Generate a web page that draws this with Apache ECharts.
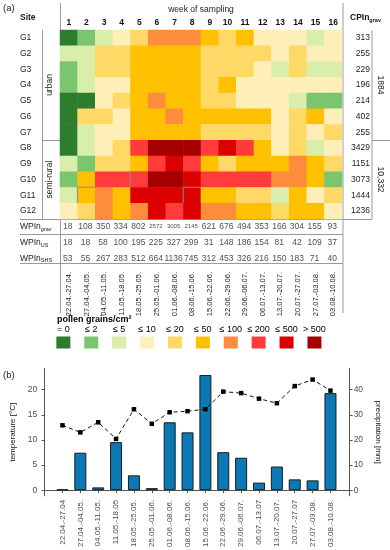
<!DOCTYPE html>
<html><head><meta charset="utf-8">
<script src="https://cdn.jsdelivr.net/npm/echarts@6/dist/echarts.min.js"></script>
<style>html,body{margin:0;padding:0;background:#fff}#c{width:390px;height:550px}</style>
</head><body><div id="c"></div>
<script>
// ---------- data ----------
const weeks = ['1','2','3','4','5','6','7','8','9','10','11','12','13','14','15','16'];
const sites = ['G1','G2','G3','G4','G5','G6','G7','G8','G9','G10','G11','G12'];
// pollen class index per week (0: =0, 1: <=2, 2: <=5, 3: <=10, 4: <=20, 5: <=50, 6: <=100, 7: <=200, 8: <=500, 9: >500)
const g1  = [0,1,2,3,4,6,6,6,5,4,5,3,3,3,2,3];
const g2  = [2,2,4,4,5,5,5,5,4,4,4,4,3,4,3,3];
const g3  = [1,2,4,4,5,5,5,5,4,4,4,3,2,4,2,2];
const g4  = [1,2,3,3,5,5,5,5,4,5,3,3,3,3,3,3];
const g5  = [0,0,3,4,5,6,5,5,4,4,3,3,3,2,1,1];
const g6  = [0,4,4,3,5,5,6,5,5,5,5,5,3,4,5,3];
const g7  = [0,2,3,3,5,5,5,5,4,4,4,4,3,4,3,4];
const g8  = [0,2,3,4,7,9,9,9,7,8,7,5,3,4,2,3];
const g9  = [2,1,4,4,5,7,8,7,5,4,5,5,5,6,5,4];
const g10 = [1,5,7,7,7,9,9,8,7,7,7,7,6,6,5,1];
const g11 = [2,5,6,5,8,8,8,8,5,5,4,4,2,5,3,4];
const g12 = [3,4,6,5,6,8,7,8,6,6,5,5,4,5,5,3];
const siteRows = [g1,g2,g3,g4,g5,g6,g7,g8,g9,g10,g11,g12];
const outlinedCells = [[4,9],[1,10],[7,10]]; // [week index, site index]
const cpinGrav = [313,255,229,196,214,402,255,3429,1151,3073,1444,1236];
const cpinUrban = '1884';
const cpinSemiRural = '10,332';
const wpinGrav = [18,108,350,334,802,2572,3005,2145,621,676,494,353,166,304,155,93];
const wpinUS   = [18,18,58,100,195,225,327,299,31,148,186,154,81,42,109,37];
const wpinSHS  = [53,55,267,283,512,664,1136,745,312,453,326,216,150,183,71,40];
const tableRows = ['grav','US','SHS'];
const periods = ['22.04.-27.04.','27.04.-04.05.','04.05.-11.05.','11.05.-18.05.','18.05.-25.05.','25.05.-01.06.','01.06.-08.06.','08.06.-15.06.','15.06.-22.06.','22.06.-29.06.','29.06.-06.07.','06.07.-13.07.','13.07.-20.07.','20.07.-27.07.','27.07.-03.08.','03.08.-10.08.'];
const periodsB = ['22.04.-27.04','27.04.-04.05.','04.05.-11.05.','11.05.-18.05','18.05.-25.05.','25.05.-01.06.','01.06.-08.06.','08.06.-15.06.','15.06.-22.06.','22.06.-29.06.','29.06.-06.07.','06.07.-13.07','13.07.-20.07.','20.07.-27.07','27.07.-03.08.','03.08.-10.08.'];
const classLabels = ['= 0','≤ 2','≤ 5','≤ 10','≤ 20','≤ 50','≤ 100','≤ 200','≤ 500','> 500'];
const classColors = ['#2e7d2e','#7bc56e','#d8eeaa','#feefb8','#fed966','#ffc000','#fd8d3c','#ff3b3b','#dc0000','#a50000'];
const precipitation = [0.3,14.9,1.1,19.1,5.9,0.8,27.0,23.0,45.8,15.1,12.9,3.0,9.4,4.3,3.9,38.6];
const temperature = [12.9,11.5,13.5,10.2,16.1,13.2,15.5,15.7,16.1,19.6,19.3,18.2,17.3,20.7,22.0,19.8];
const tempTicks = [0,5,10,15,20];
const precTicks = [0,10,20,30,40];

// ---------- build ----------
const FONT = '"Liberation Sans", Arial, sans-serif';
const heatData = [];
siteRows.forEach((row, s) => row.forEach((c, w) => {
  const item = {value: [w, s, c]};
  if (outlinedCells.some(o => o[0] === w && o[1] === s)) item.itemStyle = {borderColor: '#8a8a8a', borderWidth: 1};
  heatData.push(item);
}));
const tableData = [];
[wpinGrav, wpinUS, wpinSHS].forEach((row, r) => row.forEach((v, w) => tableData.push([w, r, v])));
const legendData = classLabels.map((l, i) => [i, 0, i]);
const xs = weeks.map((w, i) => i + 1);

const lineColor = '#9a9a9a';
function hline(x1, x2, y) { return {type: 'line', shape: {x1, y1: y, x2, y2: y}, style: {stroke: lineColor, lineWidth: 1}, silent: true}; }
function vline(x, y1, y2) { return {type: 'line', shape: {x1: x, y1, x2: x, y2}, style: {stroke: lineColor, lineWidth: 1}, silent: true}; }
function txt(x, y, text, opt) {
  return Object.assign({type: 'text', x, y, silent: true,
    style: Object.assign({text, fontFamily: FONT, fontSize: 8.5, fill: '#1a1a1a', align: 'left', verticalAlign: 'middle'}, opt && opt.style)},
    opt && opt.rotation !== undefined ? {rotation: opt.rotation} : {});
}

const chart = echarts.init(document.getElementById('c'), null, {renderer: 'canvas'});
chart.setOption({
  animation: false,
  textStyle: {fontFamily: FONT},
  grid: [
    {left: 60, top: 30, width: 282, height: 189},
    {left: 60, top: 219, width: 282, height: 47},
    {left: 49.4, top: 336.5, width: 279, height: 12},
    {left: 43.3, top: 368.5, width: 319.4, height: 128.2}
  ],
  visualMap: {
    type: 'piecewise', show: false, dimension: 2, seriesIndex: [0, 2],
    pieces: classColors.map((c, i) => ({value: i, color: c}))
  },
  xAxis: [
    {type: 'category', gridIndex: 0, data: weeks, position: 'top',
      axisLine: {show: false}, axisTick: {show: false}, splitLine: {show: false},
      axisLabel: {fontSize: 8.5, fontWeight: 'bold', color: '#111', margin: 3}},
    {type: 'category', gridIndex: 1, data: periods, position: 'bottom',
      axisLine: {show: false}, axisTick: {show: false},
      axisLabel: {fontSize: 7.5, color: '#222', rotate: 90, margin: 6, interval: 0}},
    {type: 'category', gridIndex: 2, data: classLabels, show: false},
    {type: 'value', gridIndex: 3, min: -0.073, max: 17.073, splitLine: {show: false},
      axisLine: {show: true, lineStyle: {color: '#555', width: 1}},
      axisTick: {show: true, customValues: xs, length: 3, lineStyle: {color: '#555'}},
      axisLabel: {customValues: xs, formatter: v => periodsB[Math.round(v) - 1], rotate: 90, fontSize: 8, color: '#4d4d4d', margin: 4}}
  ],
  yAxis: [
    {type: 'category', gridIndex: 0, data: sites, inverse: true,
      axisLine: {show: false}, axisTick: {show: false},
      axisLabel: {fontSize: 8.5, color: '#222', align: 'left', margin: 40}},
    {type: 'category', gridIndex: 0, data: cpinGrav.map(String), inverse: true, position: 'right',
      axisLine: {show: false}, axisTick: {show: false},
      axisLabel: {fontSize: 8.5, color: '#222', align: 'right', margin: 28}},
    {type: 'category', gridIndex: 1, data: tableRows, inverse: true,
      axisLine: {show: false}, axisTick: {show: false},
      axisLabel: {align: 'left', margin: 40, formatter: v => '{a|WPIn}{s|' + v + '}',
        rich: {a: {fontSize: 8.5, color: '#222'}, s: {fontSize: 5.5, color: '#222', verticalAlign: 'bottom', padding: [5, 0, 0, 0]}}}},
    {type: 'value', gridIndex: 2, show: false, min: -1, max: 1},
    {type: 'value', gridIndex: 3, min: -1.13, max: 24.2, splitLine: {show: false},
      axisLine: {show: true, lineStyle: {color: '#555', width: 1}},
      axisTick: {show: true, customValues: tempTicks, length: 3, lineStyle: {color: '#555'}},
      axisLabel: {customValues: tempTicks, fontSize: 8.5, color: '#4d4d4d', margin: 6},
      name: 'temperature [°C]', nameLocation: 'middle', nameGap: 14,
      nameTextStyle: {fontSize: 8, color: '#111'}},
    {type: 'value', gridIndex: 3, position: 'right', min: -2.26, max: 48.4, splitLine: {show: false},
      axisLine: {show: true, lineStyle: {color: '#555', width: 1}},
      axisTick: {show: true, customValues: precTicks, length: 3, lineStyle: {color: '#555'}},
      axisLabel: {customValues: precTicks, fontSize: 8.5, color: '#4d4d4d', margin: 4},
      name: 'precipitation [mm]', nameLocation: 'middle', nameGap: 11, nameRotate: -90,
      nameTextStyle: {fontSize: 8, color: '#111'}}
  ],
  series: [
    {type: 'heatmap', xAxisIndex: 0, yAxisIndex: 0, data: heatData, emphasis: {disabled: true}},
    {type: 'scatter', xAxisIndex: 1, yAxisIndex: 2, data: tableData, symbolSize: 0.1,
      itemStyle: {color: 'transparent'}, silent: true,
      label: {show: true, position: 'inside', offset: [-1, 0], fontSize: 8.5, color: '#222',
        formatter: p => (p.value[1] === 0 && p.value[2] >= 1000) ? '{m|' + p.value[2] + '}' : String(p.value[2]),
        rich: {m: {fontSize: 6, color: '#222'}}}},
    {type: 'scatter', xAxisIndex: 2, yAxisIndex: 3, data: legendData, symbol: 'rect', symbolSize: [14, 12], silent: true,
      itemStyle: {opacity: 1}, emphasis: {disabled: true},
      label: {show: true, position: 'top', distance: 2, fontSize: 9, color: '#000', formatter: p => classLabels[p.value[2]]}},
    {type: 'bar', xAxisIndex: 3, yAxisIndex: 5, data: precipitation.map((v, i) => [i + 1, v]), barWidth: 12,
      itemStyle: {color: '#0b79b5', borderColor: '#1a1a1a', borderWidth: 1}},
    {type: 'line', xAxisIndex: 3, yAxisIndex: 4, data: temperature.map((v, i) => [i + 1, v]),
      lineStyle: {type: [4, 3], width: 1, color: '#111'}, symbol: 'rect', symbolSize: 4.5,
      itemStyle: {color: '#000'}, z: 5}
  ],
  graphic: [
    vline(60.5, 3, 313), vline(343, 3, 313), vline(42.5, 30, 219), vline(372, 30, 219),
    hline(42.5, 60.5, 140.5), hline(372, 390, 140.5), hline(20, 372, 219.5),
    hline(20, 343, 234.5), hline(20, 343, 263.5),
    txt(3, 8, '(a)', {style: {fontSize: 9.5}}),
    txt(20, 17.5, 'Site', {style: {fontWeight: 'bold'}}),
    txt(201, 10, 'week of sampling', {style: {align: 'center'}}),
    txt(350, 18, '{a|CPIn}{s|grav}', {style: {rich: {a: {fontSize: 8.5, fontWeight: 'bold', fill: '#111'}, s: {fontSize: 5.5, fontWeight: 'bold', fill: '#111', verticalAlign: 'bottom', padding: [5, 0, 0, 0]}}}}),
    txt(50, 85, 'urban', {rotation: Math.PI / 2, style: {align: 'center'}}),
    txt(50, 179.6, 'semi-rural', {rotation: Math.PI / 2, style: {align: 'center'}}),
    txt(380, 85, cpinUrban, {rotation: -Math.PI / 2, style: {align: 'center'}}),
    txt(380, 179.6, cpinSemiRural, {rotation: -Math.PI / 2, style: {align: 'center'}}),
    txt(57, 319.5, 'pollen grains/cm²', {style: {fontWeight: 'bold', fontSize: 9, fill: '#000'}}),
    txt(3, 375, '(b)', {style: {fontSize: 9.5}})
  ]
});
</script>
</body></html>
